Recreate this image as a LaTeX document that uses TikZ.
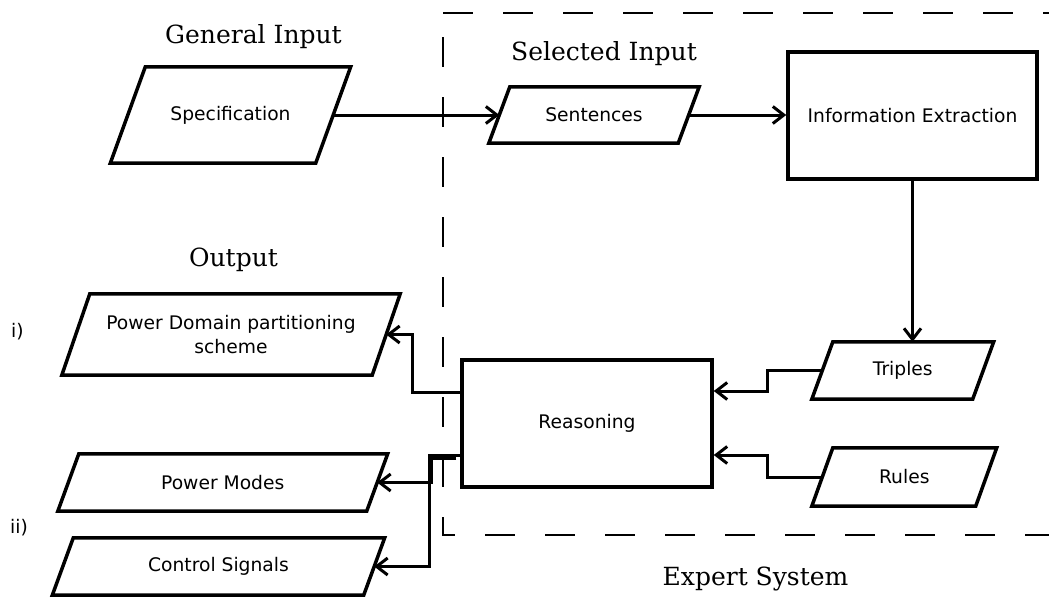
\documentclass[tikz,border=0pt]{standalone}
\usepackage{fontspec}
\setmainfont{DejaVu Sans}
\newfontfamily\headfont{DejaVu Serif}
\usetikzlibrary{arrows.meta,calc}
\begin{document}
\begin{tikzpicture}[x=1pt,y=-1pt,
  lbl/.style={font=\fontsize{18.7}{24}\selectfont, align=center, inner sep=0pt},
  head/.style={font=\headfont\fontsize{25}{30}\selectfont, inner sep=0pt},
  io/.style={lbl, rectangle},
  outline/.style={draw, line width=3.5pt, line join=miter},
  procbox/.style={lbl, rectangle, outline},
  conn/.style={line width=3pt, -{Straight Barb[length=11pt,width=17pt]}, line join=miter},
  frame/.style={line width=1.7pt, dash pattern=on 30pt off 30pt}
]
\useasboundingbox (0,0) rectangle (1049,597);
\fill[white] (0,0) rectangle (1049,597);
\clip (0,0) rectangle (1049,597);

% expert system frame (runs off to the right)
\draw[frame] (443,13) -- (1060,13);
\draw[frame, dash phase=36pt] (443,13) -- (443,535) -- (1060,535);

% headings
\node[head] (gi)  at (253.5,36.5) {General Input};
\node[head] (si)  at (604,53.5)   {Selected Input};
\node[head] (out) at (233.5,259.75) {Output};
\node[head] (es)  at (755.5,578.5) {Expert System};

% data (parallelogram) nodes: box is the mid-line, outline drawn below
\node[io, minimum width=205pt,   minimum height=96pt] (spec)  at (230.5,115)   {Specification};
\node[io, minimum width=189pt,   minimum height=56pt] (sent)  at (594,115)     {Sentences};
\node[io, minimum width=160.5pt, minimum height=57pt] (trip)  at (902.75,370.5) {Triples};
\node[io, minimum width=163.5pt, minimum height=58pt] (rules) at (904.25,477)  {Rules};
\node[io, minimum width=310pt,   minimum height=81pt] (pdp)   at (231,334.5)   {Power Domain partitioning\\scheme};
\node[io, minimum width=308.5pt, minimum height=57pt] (pm)    at (222.75,482.5) {Power Modes};
\node[io, minimum width=311pt,   minimum height=57pt] (cs)    at (218.5,566.5) {Control Signals};

\foreach \n/\s in {spec/17.5, sent/10.5, trip/10.5, rules/10.5, pdp/14, pm/10.5, cs/10.5}
  \draw[outline] ([xshift=\s pt]\n.north west) -- ([xshift=\s pt]\n.north east)
        -- ([xshift=-\s pt]\n.south east) -- ([xshift=-\s pt]\n.south west) -- cycle;

% process nodes
\node[procbox, minimum width=249pt, minimum height=127pt] (ie)   at (912.5,115.5) {Information Extraction};
\node[procbox, minimum width=250pt, minimum height=127pt] (reas) at (587,423.5)   {Reasoning};

% list markers
\node[lbl, anchor=west] (li)  at (11,332) {i)};
\node[lbl, anchor=west] (lii) at (10,528) {ii)};

% connectors
\draw[conn] (spec.east) -- (sent.west);
\draw[conn] (sent.east) -- (sent.east -| ie.west);
\draw[conn] (ie.south) -- (ie.south |- trip.north);
\draw[conn] (trip.west) -- ++(-54.5,0) |- ($(reas.east)+(0,-32.5)$);
\draw[conn] (rules.west) -- ++(-54.5,0) |- ($(reas.east)+(0,31.5)$);
\draw[conn] ($(reas.west)+(0,-31.5)$) -- ++(-48,0) |- (pdp.east);
\draw[conn] ($(reas.west)+(0,31.5)$) -- ++(-31,0) |- (cs.east);
\draw[conn] ($(reas.west)+(-4,34.5)$) -- ++(-25,0) |- (pm.east);
\end{tikzpicture}
\end{document}
